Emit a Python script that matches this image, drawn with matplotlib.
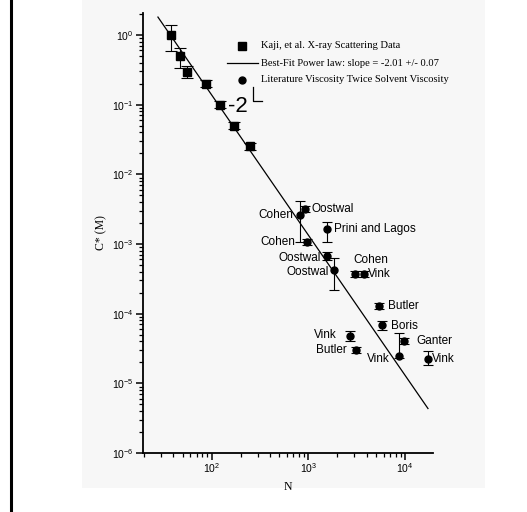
import matplotlib
matplotlib.use("Agg")
import matplotlib.pyplot as plt
import numpy as np
from matplotlib.patches import Rectangle
from matplotlib.lines import Line2D
from matplotlib.ticker import LogLocator, NullFormatter

plt.rcParams["font.family"] = ["Liberation Sans", "DejaVu Sans"]
plt.rcParams["mathtext.fontset"] = "custom"
plt.rcParams["mathtext.rm"] = "Liberation Sans"
plt.rcParams["axes.unicode_minus"] = False

# Kaji et al. X-ray scattering data
kaji_n = [37.4, 46.7, 56, 88, 123, 170, 247]
kaji_c = [1.0, 0.50, 0.297, 0.20, 0.10, 0.050, 0.0254]
kaji_lo = [0.59, 0.34, 0.24, 0.178, 0.089, 0.0445, 0.0226]
kaji_hi = [1.39, 0.645, 0.36, 0.224, 0.112, 0.056, 0.0285]

# Literature: viscosity twice solvent viscosity
lit_names = ["Cohen", "Oostwal", "Prini and Lagos", "Cohen", "Oostwal", "Oostwal",
             "Cohen", "Vink", "Butler", "Boris", "Ganter", "Vink", "Vink", "Vink", "Butler"]
lit_n = [813, 916, 1570, 975, 1570, 1840, 3010, 3730, 5330, 5820, 9800, 8650, 17400, 2670, 3130]
lit_c = [2.65e-3, 3.16e-3, 1.62e-3, 1.07e-3, 6.8e-4, 4.3e-4, 3.77e-4, 3.77e-4,
         1.28e-4, 6.8e-5, 4.1e-5, 2.47e-5, 2.26e-5, 4.8e-5, 2.98e-5]
lit_lo = [1.07e-3, 2.85e-3, 1.07e-3, 0.96e-3, 5.8e-4, 2.2e-4, 3.4e-4, 3.4e-4,
          1.15e-4, 5.8e-5, 3.7e-5, 2.3e-5, 1.86e-5, 4.1e-5, 2.7e-5]
lit_hi = [4.16e-3, 3.5e-3, 2.08e-3, 1.19e-3, 7.8e-4, 6.2e-4, 4.15e-4, 4.15e-4,
          1.43e-4, 7.8e-5, 4.5e-5, 5.3e-5, 2.9e-5, 5.6e-5, 3.3e-5]
# label placement: (dx, dy) in points, horizontal alignment
lit_label_pos = [(-5, 0, "right"), (5, 0, "left"), (4.5, 0, "left"), (-9, 0, "right"),
                 (-4.5, -1.5, "right"), (-3.5, -2, "right"), (-1, 10, "left"), (3, 0, "left"),
                 (6.5, 0, "left"), (6, -0.5, "left"), (9, -0.5, "left"), (-6.5, -2, "right"),
                 (3, -0.5, "left"), (-9, 0.5, "right"), (-7, 0, "right")]

# Best-fit power law
fit_slope = -2.01
fit_amp = 1435.0
fit_range = [27.7, 1.73e4]

fig = plt.figure(figsize=(5.27, 5.12), dpi=100, facecolor="white")
W, H = 527, 512
fig.patches.append(Rectangle((82 / W, 24 / H), (485 - 82) / W, 1 - 24 / H,
                             transform=fig.transFigure, facecolor="#f7f7f7",
                             edgecolor="none", zorder=-5))
fig.lines.append(Line2D([10.5 / W, 10.5 / W], [0, 1], transform=fig.transFigure,
                        color="black", lw=2.2))

ax = fig.add_axes([143 / W, (H - 453) / H, (433 - 143) / W, (453 - 13) / H])
ax.set_zorder(2)
ax.set_facecolor("none")
ax.set_xscale("log")
ax.set_yscale("log")
ax.set_xlim(19.4, 1.95e4)
ax.set_ylim(1e-6, 2.07)

for s in ["top", "right"]:
    ax.spines[s].set_visible(False)
for s in ["left", "bottom"]:
    ax.spines[s].set_linewidth(1.3)

ax.yaxis.set_major_locator(LogLocator(base=10, numticks=10))
ax.yaxis.set_minor_locator(LogLocator(base=10, subs=np.arange(2, 10), numticks=20))
ax.yaxis.set_minor_formatter(NullFormatter())
ax.xaxis.set_minor_locator(LogLocator(base=10, subs=np.arange(2, 10), numticks=20))
ax.xaxis.set_minor_formatter(NullFormatter())
ax.tick_params(which="major", direction="out", length=5, width=1.1, labelsize=7.5, pad=2)
ax.tick_params(axis="x", which="major", pad=1)
ax.tick_params(which="minor", direction="out", length=3, width=0.9)

# fit line
xf = np.array(fit_range)
ax.plot(xf, fit_amp * xf ** fit_slope, color="black", lw=0.9, zorder=2)

# Kaji data
kc = np.array(kaji_c)
ax.errorbar(kaji_n, kaji_c, yerr=[kc - np.array(kaji_lo), np.array(kaji_hi) - kc],
            fmt="s", color="black", ms=5.5, capsize=4, elinewidth=0.8, capthick=0.8, zorder=3)

# Literature data
lc = np.array(lit_c)
ax.errorbar(lit_n, lit_c, yerr=[lc - np.array(lit_lo), np.array(lit_hi) - lc],
            fmt="o", color="black", ms=5, capsize=3.5, elinewidth=0.8, capthick=0.8, zorder=3)
for name, x, y, (dx, dy, ha) in zip(lit_names, lit_n, lit_c, lit_label_pos):
    ax.annotate(name, (x, y), xytext=(dx, dy), textcoords="offset points",
                ha=ha, va="center", fontsize=8.5)

# slope marker
fig.text(238 / W, 1 - 107 / H, "-2", fontsize=16, ha="center", va="center")
fig.lines.append(Line2D([253 / W, 253 / W, 262 / W],
                        [1 - 87 / H, 1 - 101 / H, 1 - 101 / H],
                        transform=fig.transFigure, color="black", lw=0.9))

# legend
serif = ["Liberation Serif", "DejaVu Serif"]
leg_x, leg_txt_x = 242 / W, 261 / W
rows = [(46, "Kaji, et al. X-ray Scattering Data"),
        (63, "Best-Fit Power law: slope = -2.01 +/- 0.07"),
        (80, "Literature Viscosity Twice Solvent Viscosity")]
fig.lines.append(Line2D([leg_x], [1 - rows[0][0] / H], transform=fig.transFigure,
                        marker="s", ms=5.5, color="black", ls="none"))
fig.lines.append(Line2D([227 / W, 258 / W], [1 - rows[1][0] / H] * 2,
                        transform=fig.transFigure, color="black", lw=0.9))
fig.lines.append(Line2D([leg_x], [1 - rows[2][0] / H], transform=fig.transFigure,
                        marker="o", ms=5, color="black", ls="none"))
for yy, txt in rows:
    fig.text(leg_txt_x, 1 - yy / H, txt, family=serif, fontsize=7.6,
             ha="left", va="center")

ax.set_xlabel("N", family=serif, fontsize=8.5, labelpad=4)
ax.set_ylabel("C* (M)", family=serif, fontsize=8.5, labelpad=3)

fig.savefig("out.png", dpi=100, facecolor="white")
